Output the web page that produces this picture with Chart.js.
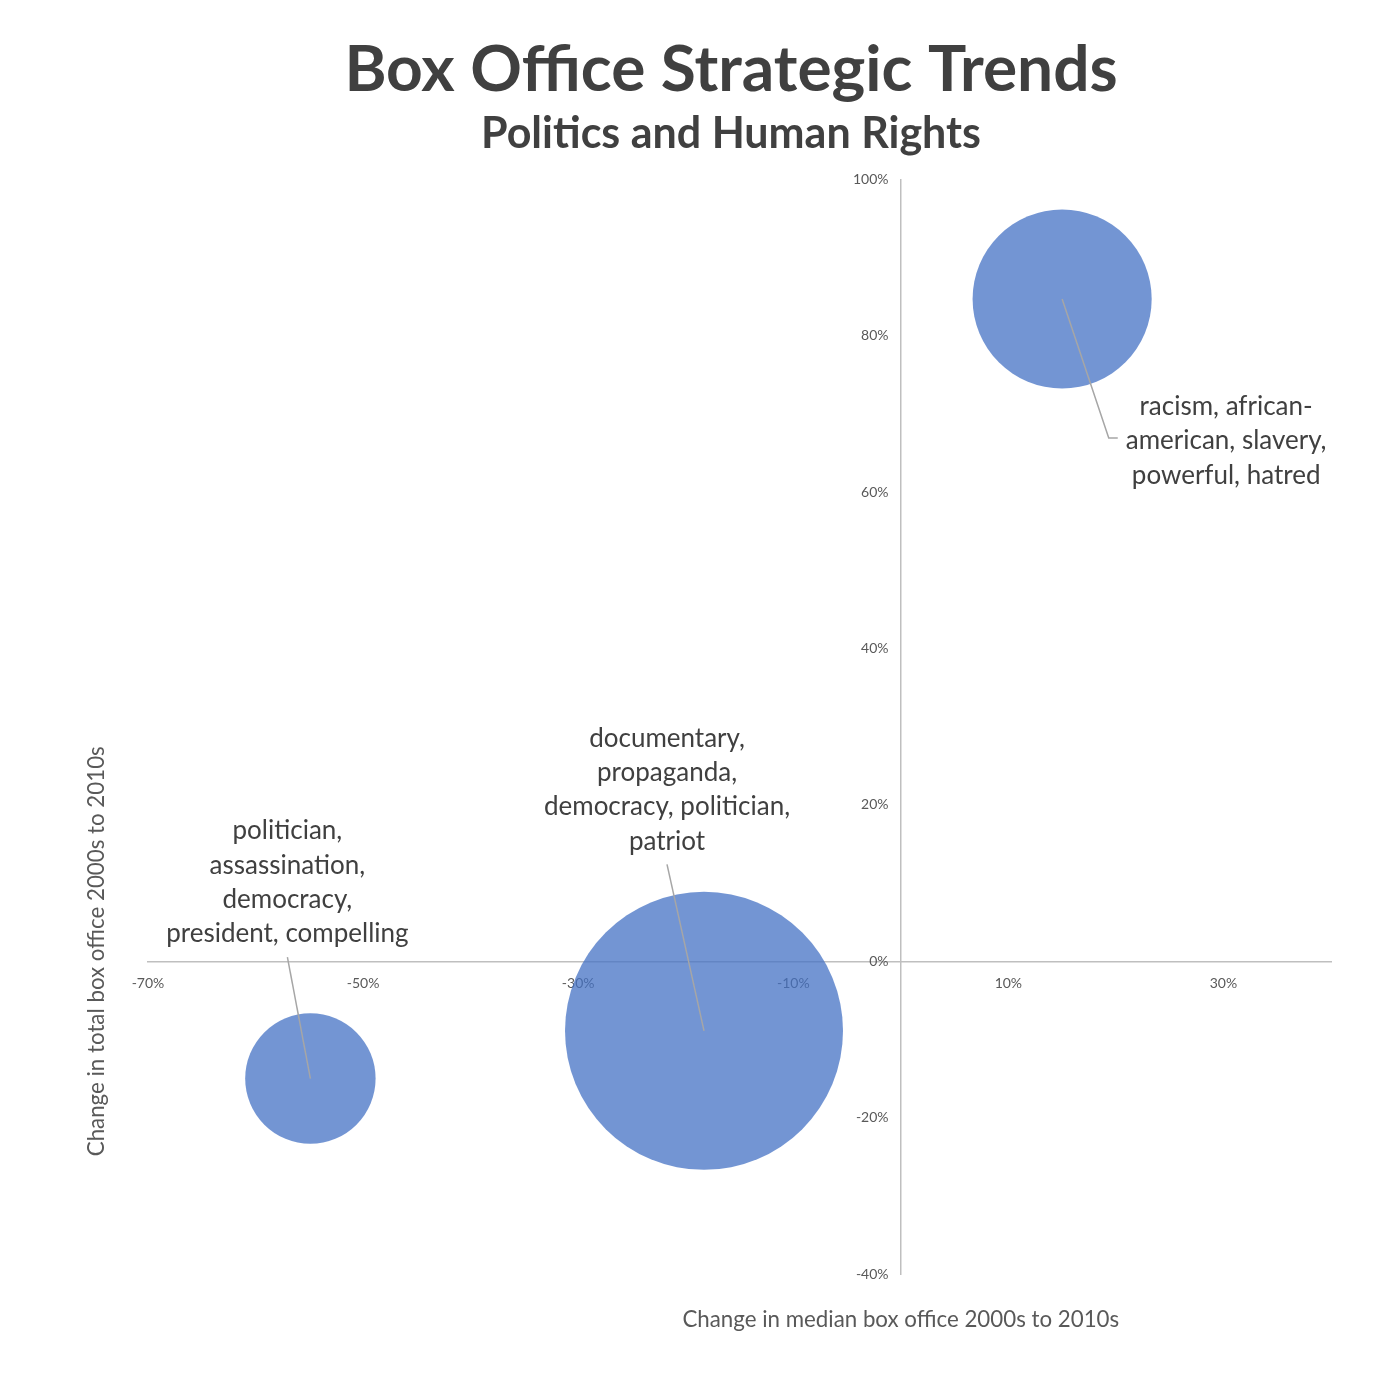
<!DOCTYPE html>
<html>
<head>
<meta charset="utf-8">
<script src="https://cdn.jsdelivr.net/npm/chart.js@4.4.0/dist/chart.umd.min.js"></script>
<style>
  html, body { margin: 0; padding: 0; background: #fff; }
  #wrap { width: 1400px; height: 1400px; }
</style>
</head>
<body>
<div id="wrap"><canvas id="trendChart"></canvas></div>
<script>
// keyword groups, one per bubble
const themes = [
  ["racism, african-", "american, slavery,", "powerful, hatred"],
  ["politician,", "assassination,", "democracy,", "president, compelling"],
  ["documentary,", "propaganda,", "democracy, politician,", "patriot"],
];
const medianChange = [15.0, -54.9, -18.3]; // % change, x
const totalChange = [84.7, -15.0, -8.9];   // % change, y
const bubbleSize = [41.5, 22.0, 100];      // relative weight

const xTickValues = [-70, -50, -30, -10, 10, 30];
const yTickValues = [-40, -20, 0, 20, 40, 60, 80, 100];

// where each label sits relative to its bubble (px)
const labelPlacement = [
  { dx: 164, dy: 142, leader: "left" },
  { dx: -23, dy: -196, leader: "bottom" },
  { dx: -37, dy: -241, leader: "bottom" },
];

const MAX_R = 139;
const maxSize = Math.max(...bubbleSize);

const points = medianChange.map((x, i) => ({
  x: x,
  y: totalChange[i],
  r: MAX_R * Math.sqrt(bubbleSize[i] / maxSize),
}));

Chart.defaults.font.family = "Lato";

// axes sit on the zero lines, so they must not eat layout space
function flatten(scale) {
  if (scale.isHorizontal()) scale.height = 0;
  else scale.width = 0;
  scale.paddingLeft = scale.paddingRight = 0;
  scale.paddingTop = scale.paddingBottom = 0;
}

const labelPlugin = {
  id: "themeLabels",
  afterDatasetsDraw(chart) {
    const ctx = chart.ctx;
    const meta = chart.getDatasetMeta(0);
    const lineH = 34.3;
    ctx.save();
    ctx.font = "26px Lato";
    meta.data.forEach((el, i) => {
      const lines = themes[i];
      const place = labelPlacement[i];
      const cx = el.x + place.dx;
      const cy = el.y + place.dy;
      const top = cy - (lines.length * lineH) / 2;
      const widest = Math.max(...lines.map((l) => ctx.measureText(l).width));

      // leader line
      ctx.strokeStyle = "#a6a6a6";
      ctx.lineWidth = 1.5;
      ctx.beginPath();
      ctx.moveTo(el.x, el.y);
      if (place.leader === "left") {
        const ly = cy - 3;
        const left = cx - widest / 2;
        ctx.lineTo(left - 17, ly);
        ctx.lineTo(left - 8, ly);
      } else {
        ctx.lineTo(cx, top + lines.length * lineH + 6);
      }
      ctx.stroke();

      ctx.fillStyle = "#404040";
      ctx.textAlign = "center";
      ctx.textBaseline = "middle";
      lines.forEach((l, j) => {
        ctx.fillText(l, cx, top + lineH * (j + 0.5));
      });
    });

    // axis titles
    const area = chart.chartArea;
    ctx.fillStyle = "#595959";
    ctx.font = "22.3px Lato";
    ctx.textAlign = "center";
    ctx.textBaseline = "middle";
    ctx.fillText("Change in median box office 2000s to 2010s",
      chart.scales.x.getPixelForValue(0), area.bottom + 46);
    ctx.translate(area.left - 51, chart.scales.y.getPixelForValue(0) - 10);
    ctx.rotate(-Math.PI / 2);
    ctx.fillText("Change in total box office 2000s to 2010s", 0, 0);
    ctx.restore();
  },
};

const ctx = document.getElementById("trendChart").getContext("2d");

new Chart(ctx, {
  type: "bubble",
  data: {
    datasets: [
      {
        label: "Politics and Human Rights",
        data: points,
        backgroundColor: "rgba(68, 114, 196, 0.75)",
        borderWidth: 0,
        hoverBorderWidth: 0,
      },
    ],
  },
  options: {
    responsive: true,
    maintainAspectRatio: false,
    animation: false,
    layout: {
      autoPadding: false,
      padding: { top: 0, left: 131, right: 69, bottom: 126 },
    },
    plugins: {
      legend: { display: false },
      tooltip: { enabled: false },
      title: {
        display: true,
        text: "Box Office Strategic Trends",
        color: "#404040",
        font: { size: 64, weight: "bold" },
        padding: { top: 32, bottom: 0 },
      },
      subtitle: {
        display: true,
        text: "Politics and Human Rights",
        color: "#404040",
        font: { size: 43, weight: "bold" },
        padding: { top: 0, bottom: 19 },
      },
    },
    scales: {
      x: {
        type: "linear",
        position: { y: 0 },
        min: -70,
        max: 40,
        grid: { display: false, drawTicks: false },
        border: { display: true, color: "#bfbfbf", width: 1.5 },
        afterFit: flatten,
        ticks: {
          stepSize: 10,
          padding: 14,
          color: "#595959",
          font: { size: 14 },
          maxRotation: 0,
          autoSkip: false,
          callback: (v) => (xTickValues.includes(v) ? v + "%" : ""),
        },
      },
      y: {
        type: "linear",
        position: { x: 0 },
        min: -40,
        max: 100,
        grid: { display: false, drawTicks: false },
        border: { display: true, color: "#bfbfbf", width: 1.5 },
        afterFit: flatten,
        ticks: {
          stepSize: 20,
          color: "#595959",
          font: { size: 14 },
          autoSkip: false,
          callback: (v) => (yTickValues.includes(v) ? v + "%\u2003\u2009" : ""),
        },
      },
      // empty strip on the left, keeps the titles centred like the original
      gutter: {
        type: "linear",
        position: "left",
        grid: { display: false },
        border: { display: false },
        ticks: { display: false },
        afterFit: (scale) => { scale.width = 17; },
      },
    },
  },
  plugins: [labelPlugin],
});
</script>
</body>
</html>
